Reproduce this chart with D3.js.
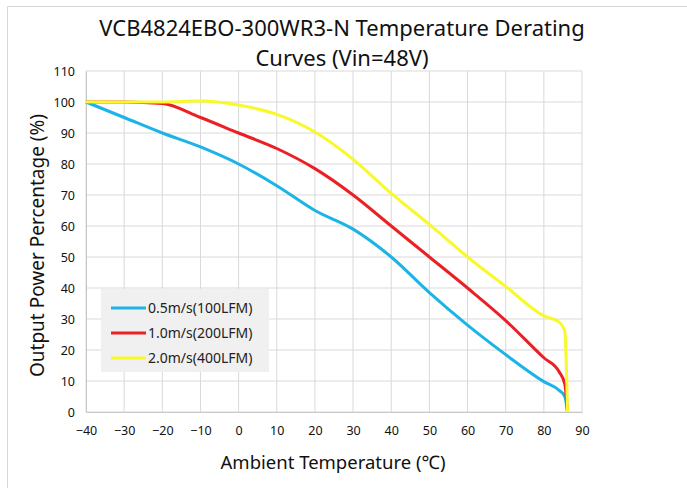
<!DOCTYPE html>
<html>
<head>
<meta charset="utf-8">
<script src="https://cdn.jsdelivr.net/npm/d3@7"></script>
<style>
  body { margin: 0; background: #fff; }
  text { font-family: "Noto Sans", sans-serif; }
</style>
</head>
<body>
<div id="chart"></div>
<script>
const width = 687;
const height = 488;

// data
const temps = [-40, -30, -20, -10, 0, 10, 20, 30, 40, 50, 60, 70, 80, 84, 85.5, 86.2];
const blue = [100, 95, 90, 85.5, 80, 73, 65, 59, 50, 38.5, 28, 18.5, 9.8, 7, 5, 0];
const red = [100, 100, 99.5, 95, 90, 85, 78.5, 70, 60, 50, 40, 29.5, 17.5, 13, 9, 0];
const yellow = [100, 100, 100, 100.3, 99, 96, 90.3, 81.5, 70.5, 60.5, 50, 40.5, 31, 29, 26, 0];
const seriesNames = ["0.5m/s(100LFM)", "1.0m/s(200LFM)", "2.0m/s(400LFM)"];
const seriesColors = ["#1cb4e6", "#ec2024", "#f8f82a"];
const xTicks = d3.range(-40, 91, 10);
const yTicks = d3.range(0, 111, 10);

const margin = { left: 86, right: 105, top: 71, bottom: 76 };

const svg = d3
  .select("#chart")
  .append("svg")
  .attr("width", width)
  .attr("height", height);

// outer frame
svg
  .append("path")
  .attr("d", `M7.5 ${height} V6.5 H${width}`)
  .attr("fill", "none")
  .attr("stroke", "#d6d6d6");

const x = d3.scaleLinear().domain([-40, 90]).range([margin.left, width - margin.right]);
const y = d3.scaleLinear().domain([0, 110]).range([height - margin.bottom, margin.top]);

// grid
svg
  .append("g")
  .selectAll("line")
  .data(xTicks)
  .join("line")
  .attr("x1", (d) => x(d))
  .attr("x2", (d) => x(d))
  .attr("y1", y(0))
  .attr("y2", y(110))
  .attr("stroke", "#d9d9d9");

svg
  .append("g")
  .selectAll("line")
  .data(yTicks)
  .join("line")
  .attr("x1", x(-40))
  .attr("x2", x(90))
  .attr("y1", (d) => y(d))
  .attr("y2", (d) => y(d))
  .attr("stroke", "#d9d9d9");

// axes with labels only
const xAxis = svg
  .append("g")
  .attr("transform", `translate(0 ${y(0)})`)
  .call(d3.axisBottom(x).tickValues(xTicks).tickSize(0).tickPadding(14));
xAxis.select(".domain").attr("stroke", "#c8c8c8");
xAxis.selectAll("text").attr("font-size", 12.5).attr("fill", "#111").attr("font-family", "Noto Sans");

const yAxis = svg
  .append("g")
  .attr("transform", `translate(${x(-40)} 0)`)
  .call(d3.axisLeft(y).tickValues(yTicks).tickSize(0).tickPadding(11));
yAxis.select(".domain").attr("stroke", "#c8c8c8");
yAxis.selectAll("text").attr("font-size", 12.5).attr("fill", "#111").attr("font-family", "Noto Sans");

// curves
const line = d3
  .line()
  .x((d) => x(d[0]))
  .y((d) => y(d[1]))
  .curve(d3.curveMonotoneX);

const series = [blue, red, yellow];
svg
  .append("g")
  .selectAll("path")
  .data(series)
  .join("path")
  .attr("d", (vals) => line(temps.map((t, i) => [t, vals[i]])))
  .attr("fill", "none")
  .attr("stroke", (d, i) => seriesColors[i])
  .attr("stroke-width", 3);

// legend
const legend = svg.append("g");
legend
  .append("rect")
  .attr("x", 101)
  .attr("y", 289)
  .attr("width", 168)
  .attr("height", 83)
  .attr("fill", "#f0f0f0");

const rows = legend
  .selectAll("g")
  .data(seriesNames)
  .join("g")
  .attr("transform", (d, i) => `translate(0 ${308 + i * 25})`);
rows
  .append("line")
  .attr("x1", 111)
  .attr("x2", 146)
  .attr("stroke", (d, i) => seriesColors[i])
  .attr("stroke-width", 3);
rows
  .append("text")
  .attr("x", 148)
  .attr("dy", "0.35em")
  .attr("font-size", 14)
  .attr("fill", "#222")
  .text((d) => d);

// titles
svg
  .append("text")
  .attr("x", 342)
  .attr("y", 35.5)
  .attr("text-anchor", "middle")
  .attr("font-size", 22)
  .attr("fill", "#111")
  .text("VCB4824EBO-300WR3-N Temperature Derating");
svg
  .append("text")
  .attr("x", 342)
  .attr("y", 66)
  .attr("text-anchor", "middle")
  .attr("font-size", 22)
  .attr("fill", "#111")
  .text("Curves (Vin=48V)");

svg
  .append("text")
  .attr("x", 333)
  .attr("y", 469)
  .attr("text-anchor", "middle")
  .attr("font-size", 18.5)
  .attr("fill", "#111")
  .text("Ambient Temperature (℃)");

svg
  .append("text")
  .attr("transform", `translate(44 ${(y(0) + y(110)) / 2 + 4}) rotate(-90)`)
  .attr("text-anchor", "middle")
  .attr("font-size", 19)
  .attr("fill", "#111")
  .text("Output Power Percentage (%)");
</script>
</body>
</html>
